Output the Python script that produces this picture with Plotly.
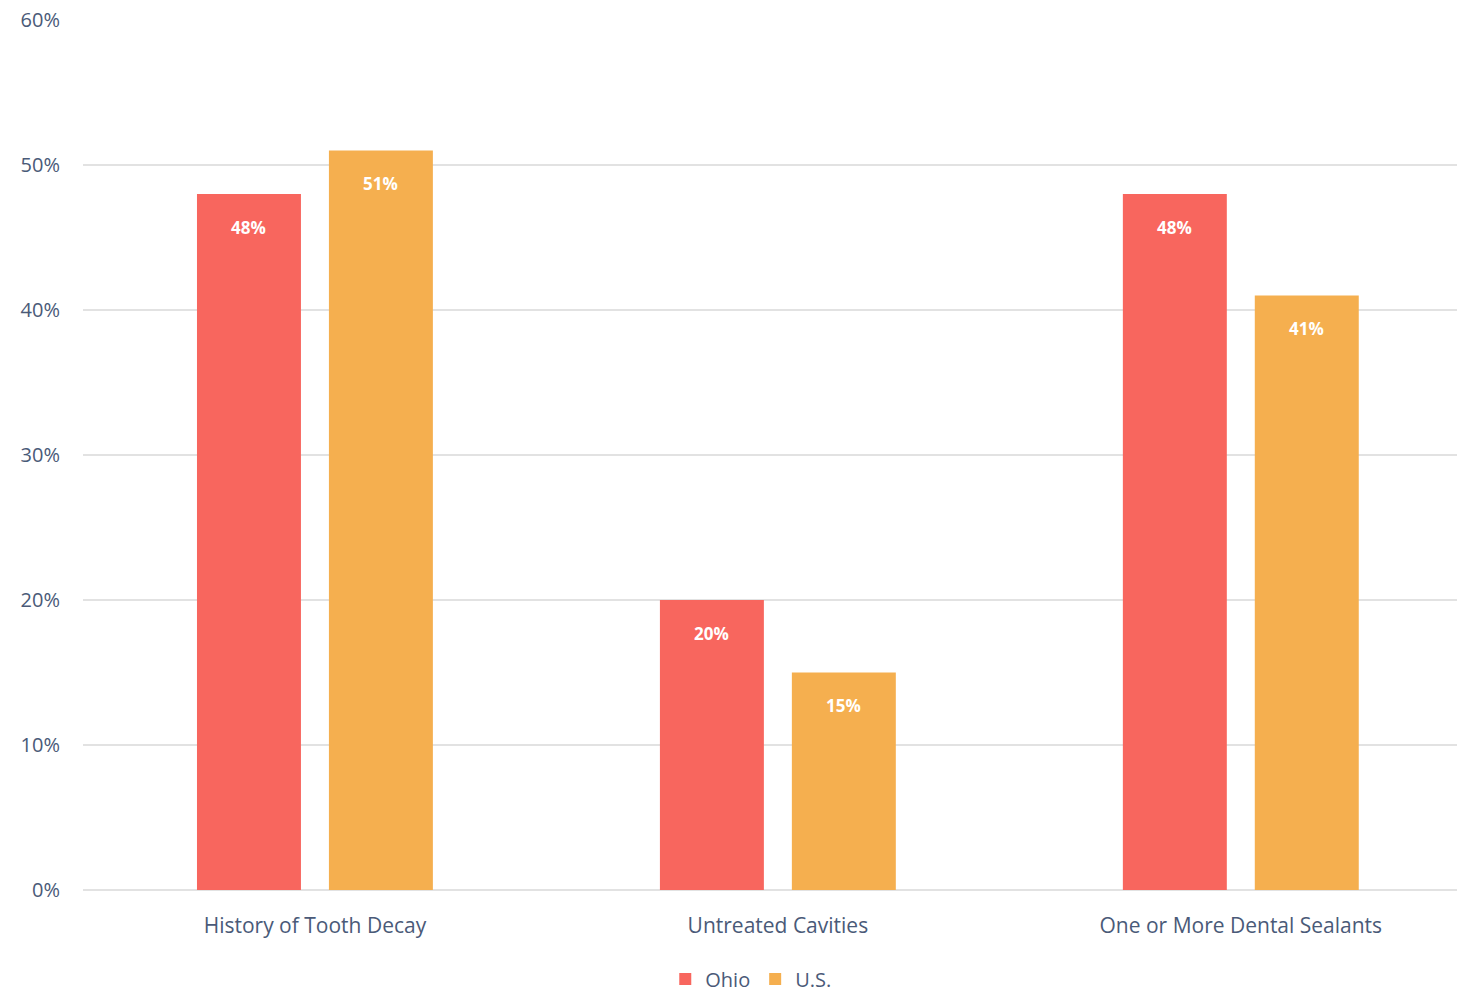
import plotly.graph_objects as go

categories = ["History of Tooth Decay", "Untreated Cavities", "One or More Dental Sealants"]
ohio = [48, 20, 48]
us = [51, 15, 41]
tick_vals = [0, 10, 20, 30, 40, 50, 60]
tick_text = ["0%", "10%", "20%", "30%", "40%", "50%", "60%"]

OHIO_C = "#F8665E"
US_C = "#F5AF4F"
TXT = "#4A5A78"
FONT = "Open Sans"

fig = go.Figure()
fig.add_bar(name="Ohio", x=categories, y=ohio, marker=dict(color=OHIO_C, line=dict(width=0)))
fig.add_bar(name="U.S.", x=categories, y=us, marker=dict(color=US_C, line=dict(width=0)))

annotations = []
for i, c in enumerate(categories):
    for vals, shift in [(ohio, -66), (us, 66)]:
        annotations.append(dict(
            x=c, y=vals[i], xref="x", yref="y", text=f"<b>{vals[i]}%</b>",
            showarrow=False, yshift=-33, xshift=shift,
            font=dict(color="white", size=17, family=FONT),
        ))

fig.update_layout(
    width=1457, height=997,
    margin=dict(l=83, r=0, t=20, b=107),
    plot_bgcolor="white", paper_bgcolor="white",
    barmode="group", bargap=0.43, bargroupgap=0.212,
    font=dict(family=FONT, color=TXT, size=19),
    showlegend=True,
    legend=dict(orientation="h", x=0.486, xanchor="center", yref="container", y=0.018,
                yanchor="middle", font=dict(size=20, color=TXT), traceorder="normal"),
    annotations=annotations,
    xaxis=dict(range=[-0.501, 2.467], showgrid=False, showline=False, ticks="",
               tickfont=dict(size=21, color=TXT), ticklabelstandoff=21, automargin=False),
    yaxis=dict(range=[0, 60], tickvals=tick_vals, ticktext=tick_text,
               showgrid=True, gridcolor="#E2E2E2", gridwidth=2,
               zeroline=True, zerolinecolor="#E2E2E2", zerolinewidth=2,
               tickfont=dict(size=20, color=TXT), ticklabelstandoff=22, automargin=False),
)
fig.write_html("out.html", config={"displayModeBar": False},
               post_script="document.body.style.margin='0';document.body.style.overflow='hidden';")
